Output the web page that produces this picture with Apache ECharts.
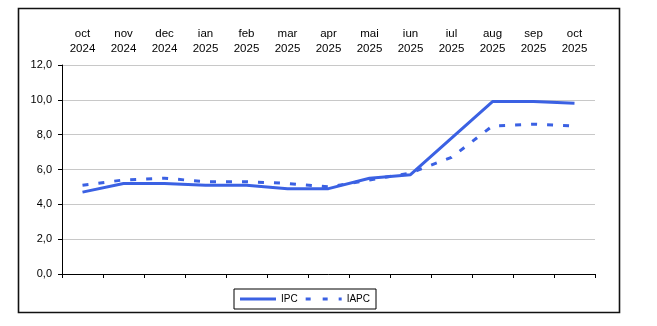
<!DOCTYPE html>
<html>
<head>
<meta charset="utf-8">
<script src="https://cdn.jsdelivr.net/npm/echarts@6/dist/echarts.min.js"></script>
<style>
html,body{margin:0;padding:0;background:#fff;}
#c{width:657px;height:326px;}
</style>
</head>
<body>
<div id="c"></div>
<script>
var categories = ['oct\n2024','nov\n2024','dec\n2024','ian\n2025','feb\n2025','mar\n2025','apr\n2025','mai\n2025','iun\n2025','iul\n2025','aug\n2025','sep\n2025','oct\n2025'];
var ipc  = [4.7, 5.2, 5.2, 5.1, 5.1, 4.9, 4.9, 5.5, 5.7, 7.8, 9.9, 9.9, 9.8];
var iapc = [5.1, 5.4, 5.5, 5.3, 5.3, 5.2, 5.0, 5.4, 5.8, 6.7, 8.5, 8.6, 8.5];
var yTicks = {min: 0, max: 12, interval: 2};

var font = "'Liberation Sans', Arial, sans-serif";
var blue = '#3b61e3';
var chart = echarts.init(document.getElementById('c'), null, {renderer: 'canvas'});
chart.setOption({
  animation: false,
  backgroundColor: '#fff',
  textStyle: {fontFamily: font},
  graphic: [{
    type: 'rect', silent: true, z: -1,
    shape: {x: 18.5, y: 8.5, width: 601, height: 304},
    style: {fill: 'none', stroke: '#111', lineWidth: 1.6}
  }],
  grid: {left: 62, right: 62, top: 65, bottom: 52},
  legend: {
    left: 234, top: 289,
    padding: [5, 6, 5, 6],
    borderColor: '#000', borderWidth: 1,
    itemWidth: 36, itemHeight: 3, itemGap: 8,
    textStyle: {fontSize: 10, color: '#000', fontFamily: font},
    data: [
      {name: 'IPC', icon: 'path://M0,0h36v3h-36z'},
      {name: 'IAPC', icon: 'path://M0,0h5v3h-5z M17,0h5v3h-5z M33,0h3v3h-3z'}
    ]
  },
  xAxis: [{
    type: 'category', data: categories, position: 'bottom',
    boundaryGap: true,
    axisLine: {lineStyle: {color: '#000', width: 1}},
    axisTick: {show: true, length: 4, lineStyle: {color: '#000'}},
    axisLabel: {show: false}
  }, {
    type: 'category', data: categories, position: 'top',
    boundaryGap: true,
    axisLine: {show: false}, axisTick: {show: false},
    axisLabel: {color: '#000', fontSize: 11.5, lineHeight: 15, margin: 9, fontFamily: font}
  }],
  yAxis: {
    type: 'value', min: yTicks.min, max: yTicks.max, interval: yTicks.interval,
    axisLine: {show: true, lineStyle: {color: '#000', width: 1}},
    axisTick: {show: true, length: 4, lineStyle: {color: '#000'}},
    axisLabel: {color: '#000', fontSize: 11, margin: 10, fontFamily: font,
      formatter: function (v) { return v.toFixed(1).replace('.', ','); }},
    splitLine: {lineStyle: {color: '#c8c8c8', width: 1.2}}
  },
  series: [{
    name: 'IPC', type: 'line', data: ipc, xAxisIndex: 0,
    symbol: 'none', color: blue,
    lineStyle: {color: blue, width: 3}
  }, {
    name: 'IAPC', type: 'line', data: iapc, xAxisIndex: 0,
    symbol: 'none', color: blue,
    lineStyle: {color: blue, width: 3, type: [6, 10]}
  }]
});
</script>
</body>
</html>
